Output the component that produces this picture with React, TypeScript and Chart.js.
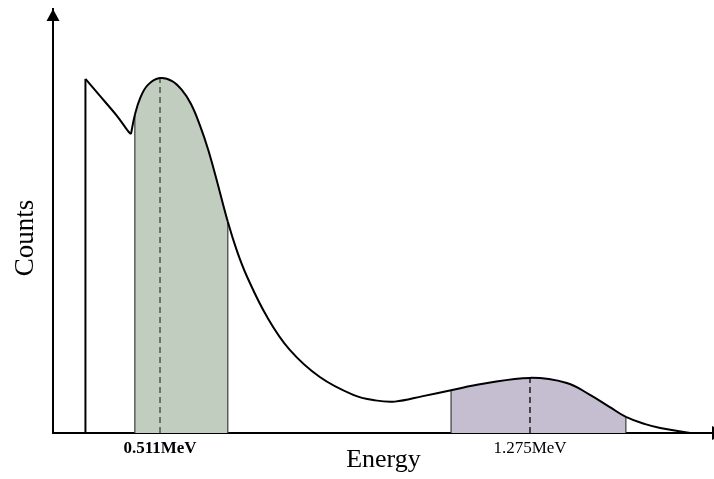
import { useEffect, useRef } from 'react';
import { Chart, registerables } from 'chart.js';

Chart.register(...registerables);

const SERIF = "'Liberation Serif', 'Times New Roman', serif";

// Axis ranges (energy in MeV, counts in arbitrary units)
const ENERGY_MIN = 0.29;
const ENERGY_MAX = 1.655;
const COUNT_MAX = 100;

// Low-energy cut-off edge of the spectrum
const edgeEnergy = [0.357, 0.357];
const edgeCounts = [0, 83.5];

// Falling shoulder before the annihilation peak
const shoulderEnergy = [0.357, 0.387, 0.422, 0.445, 0.451];
const shoulderCounts = [83.5, 79.5, 74.8, 71.2, 70.5];

// Main spectrum from the dip to the high-energy tail
const spectrumEnergy = [
  0.451, 0.459, 0.470, 0.486, 0.511, 0.536, 0.556, 0.575, 0.594, 0.610, 0.627,
  0.651, 0.670, 0.691, 0.732, 0.779, 0.841, 0.910, 0.955, 0.996, 1.054, 1.112,
  1.178, 1.275, 1.351, 1.399, 1.440, 1.473, 1.513, 1.544, 1.606,
];
const spectrumCounts = [
  70.5, 75.0, 79.0, 82.1, 83.7, 83.0, 80.9, 77.6, 72.4, 67.0, 60.1,
  49.8, 42.9, 36.8, 27.4, 19.6, 13.2, 9.0, 7.7, 7.4, 8.7, 10.1,
  11.6, 13.0, 11.8, 9.0, 6.1, 3.8, 2.1, 1.2, 0,
];

// Photopeaks and their integration windows
const peakEnergy = [0.511, 1.275];
const peakCounts = [83.7, 13.0];
const tickLabels = ['0.511MeV', '1.275MeV'];
const windowStart = [0.459, 1.112];
const windowEnd = [0.651, 1.473];
const windowColors = ['#c1cdbf', '#c4bed0'];
const peakLineColors = ['#4c574a', '#1a1a1a'];

const pts = (xs: number[], ys: number[]) => xs.map((x, i) => ({ x, y: ys[i] }));
const countAt = (e: number) => spectrumCounts[spectrumEnergy.indexOf(e)];

// colour of the area under a spectrum segment: shaded inside a peak window
const windowFill = (ctx: any) => {
  const x0 = ctx.p0.parsed.x;
  const x1 = ctx.p1.parsed.x;
  for (let i = 0; i < windowStart.length; i++) {
    if (x0 >= windowStart[i] - 1e-9 && x1 <= windowEnd[i] + 1e-9) return windowColors[i];
  }
  return 'rgba(0,0,0,0)';
};

const axisDecorations = {
  id: 'axisDecorations',
  afterDraw(chart: Chart) {
    const { ctx, chartArea } = chart;
    const { left, top, bottom, right } = chartArea;
    ctx.save();
    ctx.fillStyle = '#000';
    // arrow head on the counts axis
    ctx.beginPath();
    ctx.moveTo(left, top);
    ctx.lineTo(left - 6.5, top + 12);
    ctx.lineTo(left + 6.5, top + 12);
    ctx.closePath();
    ctx.fill();
    // arrow head on the energy axis
    ctx.beginPath();
    ctx.moveTo(right + 11, bottom);
    ctx.lineTo(right - 2, bottom - 7);
    ctx.lineTo(right - 2, bottom + 7);
    ctx.closePath();
    ctx.fill();
    // vertical axis title
    ctx.translate(33, (top + bottom) / 2 + 17);
    ctx.rotate(-Math.PI / 2);
    ctx.font = `27px ${SERIF}`;
    ctx.textAlign = 'center';
    ctx.textBaseline = 'alphabetic';
    ctx.fillText('Counts', 0, 0);
    ctx.restore();
  },
};

export default function App() {
  const canvasRef = useRef<HTMLCanvasElement | null>(null);

  useEffect(() => {
    const canvas = canvasRef.current;
    if (!canvas) return;

    const curveStyle = {
      borderColor: '#000',
      borderWidth: 2,
      pointRadius: 0,
      fill: false,
      order: 0,
    };

    const datasets: any[] = [
      { ...curveStyle, data: pts(edgeEnergy, edgeCounts), tension: 0 },
      { ...curveStyle, data: pts(shoulderEnergy, shoulderCounts), tension: 0.3 },
      {
        ...curveStyle,
        data: pts(spectrumEnergy, spectrumCounts),
        tension: 0.4,
        fill: 'origin',
        backgroundColor: 'rgba(0,0,0,0)',
        segment: { backgroundColor: windowFill },
      },
    ];

    peakEnergy.forEach((e, i) => {
      datasets.push({
        data: [{ x: e, y: 0 }, { x: e, y: peakCounts[i] }],
        borderColor: peakLineColors[i],
        borderWidth: 1.5,
        borderDash: [6, 4],
        pointRadius: 0,
        fill: false,
        order: 1,
      });
    });

    windowStart.forEach((s, i) => {
      [s, windowEnd[i]].forEach((b) => {
        datasets.push({
          data: [{ x: b, y: 0 }, { x: b, y: countAt(b) }],
          borderColor: '#3a3a3a',
          borderWidth: 1.2,
          pointRadius: 0,
          fill: false,
          order: 2,
        });
      });
    });

    const chart = new Chart(canvas, {
      type: 'line',
      data: { datasets },
      options: {
        animation: false,
        responsive: false,
        events: [],
        layout: { padding: { left: 53, top: 9, right: 0, bottom: 0 } },
        plugins: {
          legend: { display: false },
          tooltip: { enabled: false },
          filler: { drawTime: 'beforeDatasetsDraw' },
        } as any,
        scales: {
          x: {
            type: 'linear',
            min: ENERGY_MIN,
            max: ENERGY_MAX,
            grid: { display: false, drawTicks: false },
            border: { display: true, color: '#000', width: 2 },
            afterBuildTicks: (scale: any) => {
              scale.ticks = peakEnergy.map((v) => ({ value: v }));
            },
            afterFit: (scale: any) => {
              scale.height = 46;
            },
            ticks: {
              autoSkip: false,
              maxRotation: 0,
              padding: 5,
              color: '#000',
              font: (ctx: any) => ({
                family: SERIF,
                size: 17,
                weight: ctx.index === 0 ? 'bold' : 'normal',
              }),
              callback: (_v: any, i: number) => tickLabels[i],
            },
            title: {
              display: true,
              text: 'Energy',
              color: '#000',
              font: { family: SERIF, size: 26 },
              padding: { top: 0, bottom: 3 },
            },
          },
          y: {
            type: 'linear',
            min: 0,
            max: COUNT_MAX,
            grid: { display: false, drawTicks: false },
            border: { display: true, color: '#000', width: 2 },
            ticks: { display: false },
            afterFit: (scale: any) => {
              scale.width = 0;
            },
          },
        },
      },
      plugins: [axisDecorations],
    });

    return () => chart.destroy();
  }, []);

  return (
    <div style={{ position: 'absolute', left: 0, top: 0, width: 714, height: 479, background: '#fff' }}>
      <canvas ref={canvasRef} width={714} height={479} style={{ display: 'block' }} />
    </div>
  );
}
